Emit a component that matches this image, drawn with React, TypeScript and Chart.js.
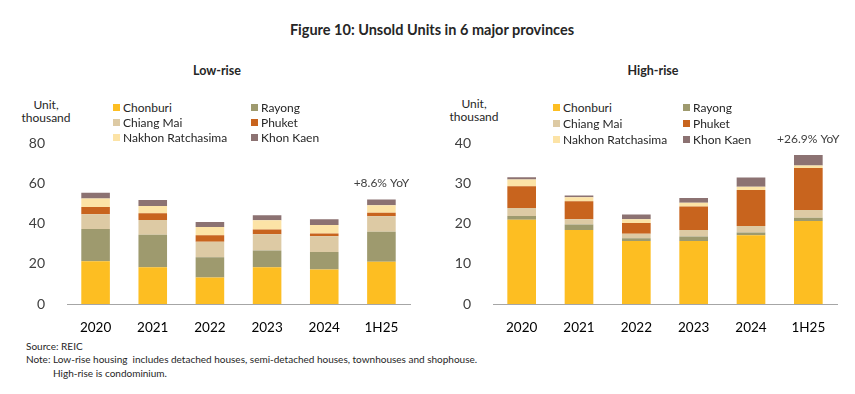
import React, { useEffect, useRef } from "react";
import { Chart, registerables } from "chart.js";

Chart.register(...registerables);

const categories = ["2020", "2021", "2022", "2023", "2024", "1H25"];
const seriesNames = ["Chonburi", "Rayong", "Chiang Mai", "Phuket", "Nakhon Ratchasima", "Khon Kaen"];
const seriesColors = ["#FDBE22", "#9E9A6E", "#DDCAA4", "#C8641E", "#FCE3A6", "#8C7272"];

// Low-rise (thousand units)
const lowChonburi = [21.3, 18.3, 13.2, 18.3, 17.2, 21.0];
const lowRayong = [16.1, 16.2, 10.1, 8.3, 8.7, 15.0];
const lowChiangMai = [7.3, 7.4, 7.7, 8.2, 7.9, 7.7];
const lowPhuket = [3.6, 3.3, 3.3, 2.3, 1.3, 1.8];
const lowNakhon = [4.2, 3.6, 4.1, 4.6, 4.3, 3.7];
const lowKhonKaen = [2.9, 3.0, 2.5, 2.5, 2.8, 2.9];

// High-rise (thousand units)
const highChonburi = [21.0, 18.4, 15.7, 15.7, 17.1, 20.7];
const highRayong = [0.9, 1.4, 0.7, 1.1, 0.7, 0.8];
const highChiangMai = [2.0, 1.3, 1.1, 1.6, 1.6, 1.9];
const highPhuket = [5.4, 4.5, 2.7, 5.9, 9.0, 10.5];
const highNakhon = [1.7, 1.0, 0.9, 0.9, 0.8, 0.6];
const highKhonKaen = [0.6, 0.4, 1.2, 1.2, 2.3, 2.6];

const lowTicks = [0, 20, 40, 60, 80];
const highTicks = [0, 10, 20, 30, 40];
const lowYoY = "+8.6% YoY";
const highYoY = "+26.9% YoY";

const FONT = "Lato, 'Noto Sans', sans-serif";

type Cfg = {
  series: number[][];
  ticks: number[];
  yoy: string;
  yWidth: number;
  padRight: number;
};

function StackChart({ cfg, style }: { cfg: Cfg; style: React.CSSProperties }) {
  const ref = useRef<HTMLCanvasElement | null>(null);
  useEffect(() => {
    if (!ref.current) return;
    const yoyPlugin = {
      id: "yoy",
      afterDatasetsDraw(chart: any) {
        const ctx = chart.ctx;
        const last = categories.length - 1;
        let total = 0;
        cfg.series.forEach((s) => (total += s[last]));
        const x = chart.scales.x.getPixelForValue(last);
        const y = chart.scales.y.getPixelForValue(total);
        ctx.save();
        ctx.font = `12px ${FONT}`;
        ctx.fillStyle = "#404040";
        ctx.textAlign = "center";
        ctx.textBaseline = "middle";
        ctx.fillText(cfg.yoy, x, y - 16);
        ctx.restore();
      },
    };
    const chart = new Chart(ref.current, {
      type: "bar",
      data: {
        labels: categories,
        datasets: cfg.series.map((d, i) => ({
          label: seriesNames[i],
          data: d,
          backgroundColor: seriesColors[i],
          borderWidth: 0,
          barPercentage: 0.5,
          categoryPercentage: 1,
        })),
      },
      options: {
        animation: false,
        responsive: false,
        layout: { padding: { top: 4, right: cfg.padRight, left: 0, bottom: 0 } },
        plugins: { legend: { display: false }, tooltip: { enabled: false }, title: { display: false } },
        scales: {
          x: {
            stacked: true,
            grid: { display: false },
            border: { display: true, color: "#A6A6A6", width: 1 },
            ticks: { font: { family: FONT, size: 13.5 }, color: "#000000", padding: 8 },
            afterFit: (s: any) => {
              s.height = 36;
            },
          },
          y: {
            stacked: true,
            min: cfg.ticks[0],
            max: cfg.ticks[cfg.ticks.length - 1],
            afterBuildTicks: (s: any) => {
              s.ticks = cfg.ticks.map((v) => ({ value: v }));
            },
            grid: { display: false },
            border: { display: false },
            ticks: { font: { family: FONT, size: 14 }, color: "#404040", padding: 14 },
            afterFit: (s: any) => {
              s.width = cfg.yWidth;
            },
          },
        },
      },
      plugins: [yoyPlugin],
    });
    return () => chart.destroy();
  }, []);
  return <canvas ref={ref} width={425} height={219} style={{ position: "absolute", ...style }} />;
}

function Legend({ left, top, col2, rowH }: { left: number; top: number; col2: number; rowH: number }) {
  return (
    <>
      {seriesNames.map((n, i) => {
        const col = i % 2;
        const row = Math.floor(i / 2);
        return (
          <div
            key={n}
            style={{
              position: "absolute",
              left: left + col * col2,
              top: top + row * rowH - 8,
              height: 16,
              display: "flex",
              alignItems: "center",
              fontSize: 12,
              color: "#262626",
              whiteSpace: "nowrap",
            }}
          >
            <span style={{ display: "inline-block", width: 7, height: 7, background: seriesColors[i], marginRight: 3 }} />
            {n}
          </div>
        );
      })}
    </>
  );
}

export default function App() {
  const abs = (l: number, t: number, extra: React.CSSProperties = {}): React.CSSProperties => ({
    position: "absolute",
    left: l,
    top: t,
    whiteSpace: "nowrap",
    ...extra,
  });
  return (
    <div
      style={{
        position: "absolute",
        left: 0,
        top: 0,
        width: 855,
        height: 394,
        background: "#ffffff",
        fontFamily: FONT,
        color: "#262626",
        overflow: "hidden",
      }}
    >
      <div style={abs(0, 21, { width: 864, textAlign: "center", fontWeight: 700, fontSize: 14.5, color: "#262626" })}>
        Figure 10: Unsold Units in 6 major provinces
      </div>
      <div style={abs(117, 63, { width: 200, textAlign: "center", fontWeight: 700, fontSize: 12.5 })}>Low-rise</div>
      <div style={abs(553, 63, { width: 200, textAlign: "center", fontWeight: 700, fontSize: 12.5 })}>High-rise</div>

      <div style={abs(6, 98, { width: 80, textAlign: "center", fontSize: 12, lineHeight: "13px" })}>
        Unit,
        <br />
        thousand
      </div>
      <div style={abs(434, 97, { width: 80, textAlign: "center", fontSize: 12, lineHeight: "13px" })}>
        Unit,
        <br />
        thousand
      </div>

      <StackChart
        cfg={{
          series: [lowChonburi, lowRayong, lowChiangMai, lowPhuket, lowNakhon, lowKhonKaen],
          ticks: lowTicks,
          yoy: lowYoY,
          yWidth: 67,
          padRight: 15,
        }}
        style={{ left: 0, top: 121 }}
      />
      <StackChart
        cfg={{
          series: [highChonburi, highRayong, highChiangMai, highPhuket, highNakhon, highKhonKaen],
          ticks: highTicks,
          yoy: highYoY,
          yWidth: 63,
          padRight: 18,
        }}
        style={{ left: 430, top: 121 }}
      />

      <Legend left={113} top={107} col2={138} rowH={15} />
      <Legend left={553} top={107} col2={130} rowH={16} />

      <div style={abs(26, 340, { fontSize: 10 })}>Source: REIC</div>
      <div style={abs(26, 353, { fontSize: 10 })}>
        Note: Low-rise housing&nbsp; includes detached houses, semi-detached houses, townhouses and shophouse.
      </div>
      <div style={abs(53, 367, { fontSize: 10 })}>High-rise is condominium.</div>
    </div>
  );
}
